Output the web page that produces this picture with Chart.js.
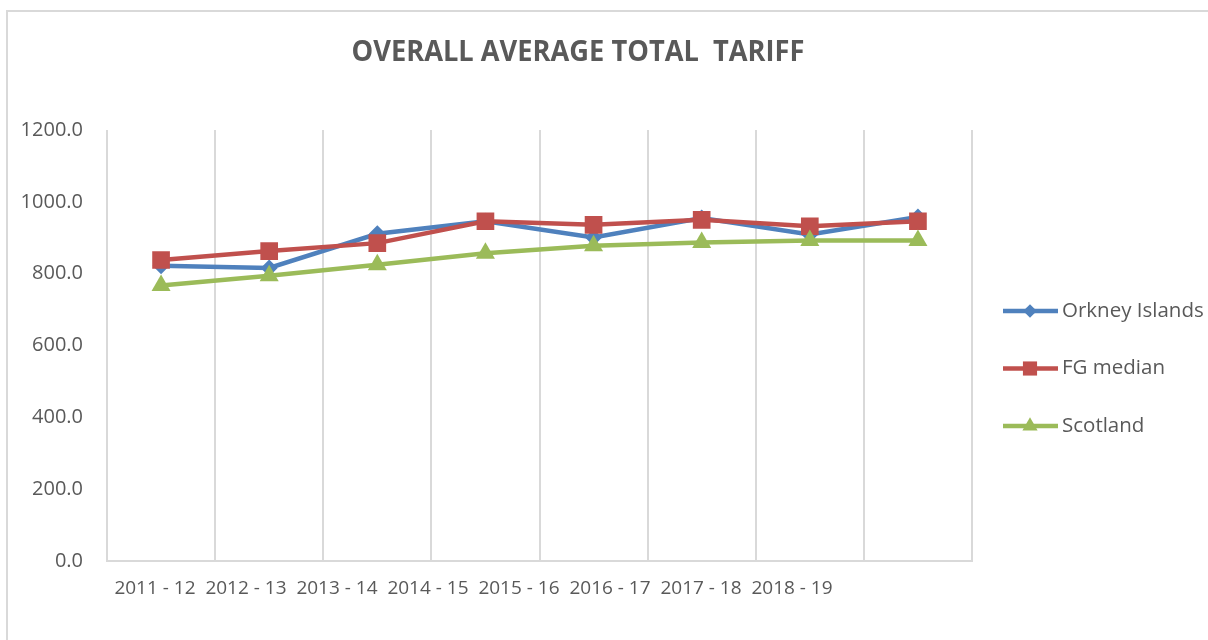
<!DOCTYPE html>
<html>
<head>
<meta charset="utf-8">
<script src="https://cdn.jsdelivr.net/npm/chart.js"></script>
<style>
html,body{margin:0;padding:0;background:#fff;}
#wrap{width:1208px;height:640px;position:relative;}
</style>
</head>
<body>
<div id="wrap"><canvas id="c" width="1208" height="640"></canvas></div>
<script>
// ---- data ----
const categories = ['2011 - 12', '2012 - 13', '2013 - 14', '2014 - 15', '2015 - 16', '2016 - 17', '2017 - 18', '2018 - 19'];
const seriesNames = ['Orkney Islands', 'FG median', 'Scotland'];
const orkney   = [822, 816, 911, 946, 901, 955, 909, 958];
const fgMedian = [838, 863, 885, 946, 936, 950, 932, 946];
const scotland = [767, 794, 825, 857, 878, 887, 892, 892];
const yTickValues = [0, 200, 400, 600, 800, 1000, 1200];
const chartTitle = 'OVERALL AVERAGE TOTAL  TARIFF';

const TEXT = '#595959';
const GRID = '#d9d9d9';
const FONT = "'Open Sans', 'Liberation Sans', sans-serif";

const decor = {
  id: 'decor',
  beforeDraw(chart) {
    const ctx = chart.ctx;
    ctx.save();
    ctx.fillStyle = '#fff';
    ctx.fillRect(0, 0, chart.width, chart.height);
    ctx.strokeStyle = GRID;
    ctx.lineWidth = 2;
    ctx.beginPath();
    ctx.moveTo(7, chart.height);
    ctx.lineTo(7, 11);
    ctx.lineTo(chart.width, 11);
    ctx.stroke();
    ctx.restore();
  },
  afterDraw(chart) {
    const ctx = chart.ctx;
    // title
    ctx.save();
    ctx.font = "bold 28px " + FONT;
    ctx.fillStyle = TEXT;
    ctx.textBaseline = 'middle';
    ctx.textAlign = 'center';
    const w = ctx.measureText(chartTitle).width;
    const sx = 453 / w;
    ctx.translate(578, 53);
    ctx.scale(sx, 1);
    ctx.fillText(chartTitle, 0, 0);
    ctx.restore();
    // legend
    ctx.save();
    chart.data.datasets.forEach((ds, i) => {
      const y = 311 + i * 57.5;
      ctx.strokeStyle = ds.borderColor;
      ctx.lineWidth = 4.5;
      ctx.beginPath();
      ctx.moveTo(1003, y);
      ctx.lineTo(1058, y);
      ctx.stroke();
      ctx.fillStyle = ds.pointBackgroundColor;
      Chart.helpers.drawPoint(ctx, {pointStyle: ds.pointStyle, radius: ds.pointRadius * 0.8, rotation: 0, borderWidth: 0}, 1030, y);
      ctx.fillStyle = TEXT;
      ctx.font = "20.5px " + FONT;
      ctx.textAlign = 'left';
      ctx.textBaseline = 'middle';
      ctx.fillText(ds.label, 1062, y);
    });
    ctx.restore();
  }
};

const mk = (label, data, color, style, r, order) => ({
  label, data, order,
  xAxisID: 'x', yAxisID: 'y',
  borderColor: color, backgroundColor: color,
  pointBackgroundColor: color, pointBorderColor: color,
  pointBorderWidth: 0, pointStyle: style, pointRadius: r,
  borderWidth: 4.5, tension: 0, fill: false
});

new Chart(document.getElementById('c'), {
  type: 'line',
  data: {
    labels: categories,
    datasets: [
      mk(seriesNames[0], orkney, '#4f81bd', 'rectRot', 8.5, 3),
      mk(seriesNames[1], fgMedian, '#c0504d', 'rect', 12.5, 2),
      mk(seriesNames[2], scotland, '#9bbb59', 'triangle', 11, 1)
    ]
  },
  options: {
    responsive: false,
    animation: false,
    devicePixelRatio: 1,
    layout: { padding: { top: 130, left: 0, right: 236, bottom: 0 } },
    plugins: { legend: { display: false }, title: { display: false }, tooltip: { enabled: false } },
    scales: {
      x: {
        type: 'category',
        offset: true,
        grid: { display: true, color: GRID, lineWidth: 2, drawTicks: false, offset: true },
        border: { display: true, color: GRID, width: 2 },
        ticks: { display: false },
        afterFit(s) { s.height = 0; }
      },
      x2: {
        type: 'linear',
        position: 'bottom',
        min: -0.527,
        max: 8.978,
        grid: { display: false, drawTicks: false },
        border: { display: false },
        afterBuildTicks(s) { s.ticks = categories.map((_, i) => ({ value: i })); },
        ticks: {
          autoSkip: false,
          maxRotation: 0,
          padding: 16,
          color: TEXT,
          font: { family: FONT, size: 19 },
          callback: (v) => categories[v] !== undefined ? categories[v] : ''
        },
        afterFit(s) { s.height = 79; }
      },
      y: {
        min: yTickValues[0],
        max: yTickValues[yTickValues.length - 1],
        grid: { display: false, drawTicks: false },
        border: { display: false },
        afterBuildTicks(s) { s.ticks = yTickValues.map(v => ({ value: v })); },
        ticks: {
          padding: 24,
          color: TEXT,
          font: { family: FONT, size: 20 },
          callback: (v) => Number(v).toFixed(1)
        },
        afterFit(s) { s.width = 107; }
      }
    }
  },
  plugins: [decor]
});
</script>
</body>
</html>
